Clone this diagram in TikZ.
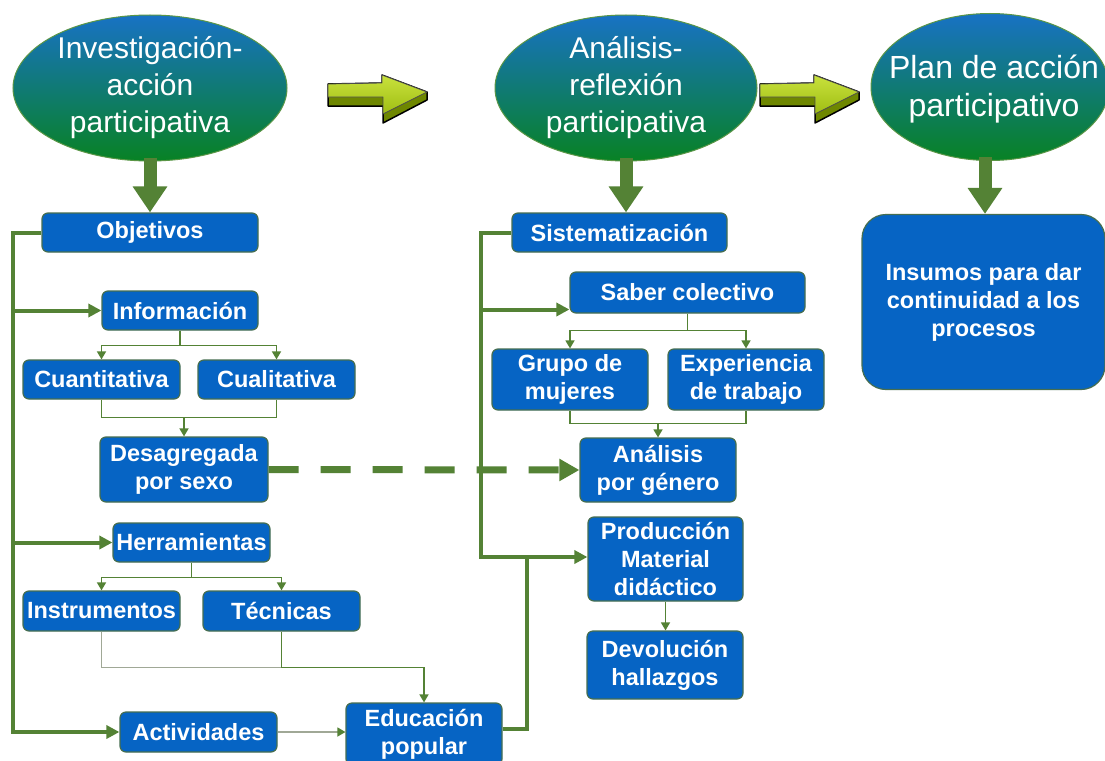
\documentclass[tikz,border=0pt]{standalone}
\usepackage{fontspec}
\setmainfont{Liberation Sans}
\usetikzlibrary{shapes.geometric,arrows.meta}
\definecolor{boxblue}{RGB}{6,100,196}
\definecolor{boxborder}{RGB}{70,110,80}
\definecolor{lgreen}{RGB}{84,130,53}
\definecolor{lgrey}{RGB}{160,168,150}
\definecolor{elltop}{RGB}{24,114,196}
\definecolor{ellbot}{RGB}{8,130,36}
\definecolor{ellborder}{RGB}{90,150,70}
\definecolor{arrhi}{RGB}{200,225,60}
\definecolor{arrlight}{RGB}{160,190,20}
\definecolor{arrdark}{RGB}{110,135,0}
\tikzset{
 arrowthreed/.pic={
  \draw[draw=black, line width=1.5pt, fill=arrdark, line join=round] (0,9) -- (54,8) -- (54,0) -- (99,17) -- (99,25) -- (55,48) -- (55,31) -- (0,31) -- cycle;
  \draw[draw=black!70, line width=0.8pt, top color=arrhi, bottom color=arrlight, line join=round] (0,9) -- (54,8) -- (54,0) -- (99,17) -- (55,39) -- (55,22) -- (0,22) -- cycle;
 }
}
\begin{document}
\begin{tikzpicture}[x=1pt,y=-1pt,
 box/.style={draw=boxborder, line width=1.2pt, fill=boxblue, rounded corners=6pt, text=white, font=\fontsize{23.5}{28}\selectfont\bfseries, align=center, inner sep=0pt},
 ell/.style={ellipse, draw=ellborder, line width=1pt, top color=elltop, bottom color=ellbot, inner sep=0pt},
 elltext/.style={text=white, font=\fontsize{30}{37}\selectfont, align=center, inner sep=0pt},
 trunk/.style={draw=lgreen, line width=4pt},
 thinline/.style={draw=lgreen, line width=1.5pt},
 greyline/.style={draw=lgrey, line width=1.5pt},
 bigtip/.style={-{Triangle[length=13pt,width=13pt]}},
 smalltip/.style={-{Triangle[length=8pt,width=9pt]}},
 downarrow/.style={draw=lgreen, line width=13pt, -{Triangle[length=26pt,width=33pt,color=lgreen]}},
]
\fill[white] (0,0) rectangle (1105,760);
\useasboundingbox (0,0) rectangle (1105,760);

% ellipses
\node[ell, minimum width=274pt, minimum height=146pt] (e1) at (150,88) {};
\node[elltext] (e1t) at (e1) {Investigación-\\acción\\participativa};
\node[ell, minimum width=262pt, minimum height=146pt] (e2) at (626,88) {};
\node[elltext] (e2t) at (e2) {Análisis-\\reflexión\\participativa};
\node[ell, minimum width=238pt, minimum height=147pt] (e3) at (990,87) {};
\node[elltext, font=\fontsize{32}{38}\selectfont] (e3t) at (994,89) {Plan de acción\\participativo};

% 3D arrows
\pic at (328,75) {arrowthreed};
\pic at (760,75) {arrowthreed};

% boxes
\node[box, minimum width=216pt, minimum height=39pt] (obj) at (150,232.5) {Objetivos};
\node[box, minimum width=156pt, minimum height=39pt] (info) at (180,310.5) {Información};
\node[box, minimum width=157pt, minimum height=39pt] (cuanti) at (101.5,379.5) {Cuantitativa};
\node[box, minimum width=157pt, minimum height=39pt] (cuali) at (276.5,379.5) {Cualitativa};
\node[box, minimum width=168pt, minimum height=65pt] (desag) at (184,469.5) {Desagregada\\por sexo};
\node[box, minimum width=157pt, minimum height=39pt] (herr) at (191.5,542.5) {Herramientas};
\node[box, minimum width=157pt, minimum height=40pt] (instr) at (101.5,611) {Instrumentos};
\node[box, minimum width=157pt, minimum height=40pt] (tecn) at (281.5,611) {Técnicas};
\node[box, minimum width=157pt, minimum height=40pt] (activ) at (198.5,732) {Actividades};
\node[box, minimum width=156pt, minimum height=62pt] (edu) at (424,734) {Educación\\popular};

\node[box, minimum width=215pt, minimum height=39pt] (sist) at (619.5,232.5) {Sistematización};
\node[box, minimum width=235pt, minimum height=41pt] (saber) at (687.5,292.5) {Saber colectivo};
\node[box, minimum width=156pt, minimum height=61pt] (grupo) at (570,379.5) {Grupo de\\mujeres};
\node[box, minimum width=156pt, minimum height=61pt] (exper) at (746,379.5) {Experiencia\\de trabajo};
\node[box, minimum width=156pt, minimum height=64pt] (anal) at (658,470) {Análisis\\por género};
\node[box, minimum width=155pt, minimum height=84pt] (prod) at (665.5,559) {Producción\\Material\\didáctico};
\node[box, minimum width=156pt, minimum height=68pt] (devo) at (665,665) {Devolución\\hallazgos};

\node[box, rounded corners=24pt, minimum width=243pt, minimum height=175pt] (insu) at (983.5,302) {Insumos para dar\\continuidad a los\\procesos};

% big down arrows
\coordinate (D3) at (985,0);
\draw[downarrow] ([yshift=4pt]e1.south) -- (obj.north);
\draw[downarrow] ([yshift=4pt]e2.south) -- (e2.south |- sist.north);
\draw[downarrow] ([yshift=4pt]e3.south -| D3) -- (D3 |- insu.north);

% left trunk
\coordinate (L) at (13,0);
\draw[trunk,bigtip] (obj.west) -- (obj.west -| L) |- (activ.west);
\draw[trunk,bigtip] (info.west -| L) -- (info.west);
\draw[trunk,bigtip] (herr.west -| L) -- (herr.west);

% middle trunk
\coordinate (M) at (481,0);
\coordinate (J) at (527,0);
\coordinate (pw) at ([yshift=2pt]prod.west);
\coordinate (sw) at ([yshift=-17pt]saber.west);
\draw[trunk,bigtip] (sist.west) -- (sist.west -| M) |- (pw);
\draw[trunk,bigtip] (sw -| M) -- (sw);
\draw[trunk] ([yshift=5pt]edu.east) -| (J |- pw);

% dashed
\draw[draw=lgreen, line width=7pt, dash pattern=on 30pt off 22pt, -{Triangle[length=20pt,width=21pt]}] (desag.east) -- (anal.west);

% left thin connectors
\draw[thinline,smalltip] (info.south) -- ++(0,15) -| (cuanti.north);
\draw[thinline,smalltip] (info.south) -- ++(0,15) -| (cuali.north);
\draw[thinline] (cuanti.south) -- ++(0,18) -| (cuali.south);
\path (cuanti.south) ++(0,18) coordinate (cq);
\draw[thinline,smalltip] (cq -| desag.north) -- (desag.north);

\draw[thinline,smalltip] (herr.south) -- ++(0,15) -| (instr.north);
\draw[thinline,smalltip] (herr.south) -- ++(0,15) -| (tecn.north);
\draw[greyline] (instr.south) -- ++(0,36) -| (tecn.south);
\draw[thinline,smalltip] (tecn.south) -- ++(0,36) -| (edu.north);
\draw[greyline,-{Triangle[length=8pt,width=9pt,color=lgreen]}] (activ.east) -- (activ.east -| edu.west);

% middle thin connectors
\draw[thinline,smalltip] (saber.south) -- ++(0,17) -| (grupo.north);
\draw[thinline,smalltip] (saber.south) -- ++(0,17) -| (exper.north);
\draw[thinline] (grupo.south) -- ++(0,13) -| (exper.south);
\path (grupo.south) ++(0,13) coordinate (gq);
\draw[thinline,smalltip] (gq -| anal.north) -- (anal.north);
\draw[thinline,smalltip] (prod.south) -- (prod.south |- devo.north);
\end{tikzpicture}
\end{document}
